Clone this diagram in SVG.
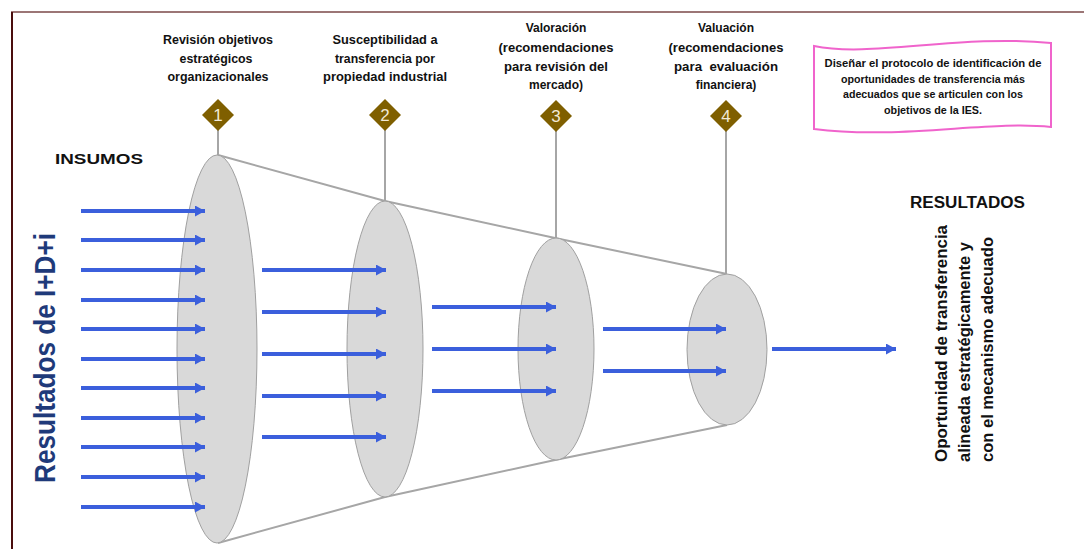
<svg xmlns="http://www.w3.org/2000/svg" width="1084" height="549" viewBox="0 0 1084 549">
<style>
.lbl{font-family:"Liberation Sans",Arial,sans-serif;font-weight:bold;font-size:12px;fill:#111;text-anchor:middle}
.num{font-family:"Liberation Sans",Arial,sans-serif;font-size:17px;fill:#f2ead6;text-anchor:middle}
.ell{fill:#d9d9d9;stroke:#a0a0a0;stroke-width:1}
.stem{stroke:#a6a6a6;stroke-width:2}
.dia{fill:#7f5f00}
.arr{stroke:#3b5fdc;stroke-width:4;fill:none;marker-end:url(#ah)}
.pink{font-family:"Liberation Sans",Arial,sans-serif;font-weight:bold;font-size:10px;fill:#111;text-anchor:middle}
.rot{font-family:"Liberation Sans",Arial,sans-serif;font-weight:bold;font-size:16px;fill:#111}
</style>
<defs>
<marker id="ah" markerUnits="userSpaceOnUse" markerWidth="12" markerHeight="12" refX="10" refY="5.5" orient="auto">
<path d="M0,0 L10,5.5 L0,11 Z" fill="#3b5fdc"/>
</marker>
</defs>
<rect width="1084" height="549" fill="#fff"/>
<g id="frame">
<line x1="11" y1="12" x2="1084" y2="12" stroke="#7b4848" stroke-width="1.5"/>
<line x1="12" y1="12" x2="12" y2="549" stroke="#4a0d0d" stroke-width="2"/>
</g>
<g id="connectors">
<polyline points="218,155 385,201 555,238 727,274" fill="none" stroke="#a6a6a6" stroke-width="2"/>
<polyline points="218,543 385,497 555,460 727,425" fill="none" stroke="#a6a6a6" stroke-width="2"/>
<line class="stem" x1="218" y1="128" x2="218" y2="155"/>
<line class="stem" x1="385" y1="128" x2="385" y2="201"/>
<line class="stem" x1="556" y1="128" x2="556" y2="238"/>
<line class="stem" x1="726" y1="128" x2="726" y2="274"/>
</g>
<g id="stage1"><ellipse class="ell" cx="217" cy="349" rx="40" ry="194"/></g>
<g id="stage2"><ellipse class="ell" cx="385" cy="349" rx="38" ry="148"/></g>
<g id="stage3"><ellipse class="ell" cx="556" cy="349" rx="38" ry="111"/></g>
<g id="stage4"><ellipse class="ell" cx="727" cy="349.5" rx="40" ry="75.5"/></g>
<g id="arrows">
<line class="arr" x1="81" y1="211" x2="205" y2="211"/>
<line class="arr" x1="81" y1="240" x2="205" y2="240"/>
<line class="arr" x1="81" y1="270" x2="205" y2="270"/>
<line class="arr" x1="81" y1="300" x2="205" y2="300"/>
<line class="arr" x1="81" y1="329" x2="205" y2="329"/>
<line class="arr" x1="81" y1="359" x2="205" y2="359"/>
<line class="arr" x1="81" y1="388" x2="205" y2="388"/>
<line class="arr" x1="81" y1="418" x2="205" y2="418"/>
<line class="arr" x1="81" y1="447" x2="205" y2="447"/>
<line class="arr" x1="81" y1="477" x2="205" y2="477"/>
<line class="arr" x1="81" y1="507" x2="205" y2="507"/>
<line class="arr" x1="262" y1="270" x2="386" y2="270"/>
<line class="arr" x1="262" y1="312" x2="386" y2="312"/>
<line class="arr" x1="262" y1="354" x2="386" y2="354"/>
<line class="arr" x1="262" y1="396" x2="386" y2="396"/>
<line class="arr" x1="262" y1="437" x2="386" y2="437"/>
<line class="arr" x1="432" y1="307" x2="556" y2="307"/>
<line class="arr" x1="432" y1="349" x2="556" y2="349"/>
<line class="arr" x1="432" y1="391" x2="556" y2="391"/>
<line class="arr" x1="603" y1="329" x2="726" y2="329"/>
<line class="arr" x1="603" y1="371" x2="726" y2="371"/>
<line class="arr" x1="772" y1="349" x2="896" y2="349"/>
</g>
<g id="marker1">
<polygon class="dia" points="218,99 234,115 218,131 202,115"/>
<text class="num" x="218" y="121">1</text>
</g>
<g id="marker2">
<polygon class="dia" points="385,99 401,115 385,131 369,115"/>
<text class="num" x="385" y="121">2</text>
</g>
<g id="marker3">
<polygon class="dia" points="556,100 572,116 556,132 540,116"/>
<text class="num" x="556" y="122">3</text>
</g>
<g id="marker4">
<polygon class="dia" points="726,100 742,116 726,132 710,116"/>
<text class="num" x="726" y="122">4</text>
</g>
<g id="label1">
<text class="lbl" x="218" y="44" textLength="110" lengthAdjust="spacingAndGlyphs">Revisión objetivos</text>
<text class="lbl" x="216" y="63" textLength="73" lengthAdjust="spacingAndGlyphs">estratégicos</text>
<text class="lbl" x="218" y="81" textLength="101" lengthAdjust="spacingAndGlyphs">organizacionales</text>
</g>
<g id="label2">
<text class="lbl" x="385" y="44" textLength="105" lengthAdjust="spacingAndGlyphs">Susceptibilidad a</text>
<text class="lbl" x="385" y="63" textLength="100" lengthAdjust="spacingAndGlyphs">transferencia por</text>
<text class="lbl" x="385" y="81" textLength="124" lengthAdjust="spacingAndGlyphs">propiedad industrial</text>
</g>
<g id="label3">
<text class="lbl" x="556" y="32">Valoración</text>
<text class="lbl" x="556" y="52" textLength="115" lengthAdjust="spacingAndGlyphs">(recomendaciones</text>
<text class="lbl" x="556" y="71" textLength="104" lengthAdjust="spacingAndGlyphs">para revisión del</text>
<text class="lbl" x="556" y="89">mercado)</text>
</g>
<g id="label4">
<text class="lbl" x="726" y="32">Valuación</text>
<text class="lbl" x="726" y="52" textLength="115" lengthAdjust="spacingAndGlyphs">(recomendaciones</text>
<text class="lbl" x="726" y="71" textLength="104" lengthAdjust="spacingAndGlyphs">para &#160;evaluación</text>
<text class="lbl" x="726" y="89">financiera)</text>
</g>
<g id="objective">
<path d="M814,46 C870,58 960,34 1051,43 L1051,127 C990,120 900,140 814,129 Z" fill="#fff" stroke="#f064cc" stroke-width="2"/>
<text class="pink" x="933" y="67" textLength="217" lengthAdjust="spacingAndGlyphs">Diseñar el protocolo de identificación de</text>
<text class="pink" x="933" y="83" textLength="184" lengthAdjust="spacingAndGlyphs">oportunidades de transferencia más</text>
<text class="pink" x="933" y="98" textLength="180" lengthAdjust="spacingAndGlyphs">adecuados que se articulen con los</text>
<text class="pink" x="933" y="114" textLength="98" lengthAdjust="spacingAndGlyphs">objetivos de la IES.</text>
</g>
<g id="insumos">
<text x="55" y="164" font-family="Liberation Sans, Arial, sans-serif" font-weight="bold" font-size="15" fill="#111" textLength="88" lengthAdjust="spacingAndGlyphs">INSUMOS</text>
<text transform="translate(55,483) rotate(-90)" font-family="Liberation Sans, Arial, sans-serif" font-weight="bold" font-size="29" fill="#1f3a7a" textLength="250" lengthAdjust="spacingAndGlyphs">Resultados de I+D+i</text>
</g>
<g id="resultados">
<text x="910" y="208" font-family="Liberation Sans, Arial, sans-serif" font-weight="bold" font-size="16" fill="#111" textLength="115" lengthAdjust="spacingAndGlyphs">RESULTADOS</text>
<text class="rot" transform="translate(947,462) rotate(-90)" textLength="237" lengthAdjust="spacingAndGlyphs">Oportunidad de transferencia</text>
<text class="rot" transform="translate(970,462) rotate(-90)" textLength="220" lengthAdjust="spacingAndGlyphs">alineada estratégicamente y</text>
<text class="rot" transform="translate(993,462) rotate(-90)" textLength="225" lengthAdjust="spacingAndGlyphs">con el mecanismo adecuado</text>
</g>
</svg>
